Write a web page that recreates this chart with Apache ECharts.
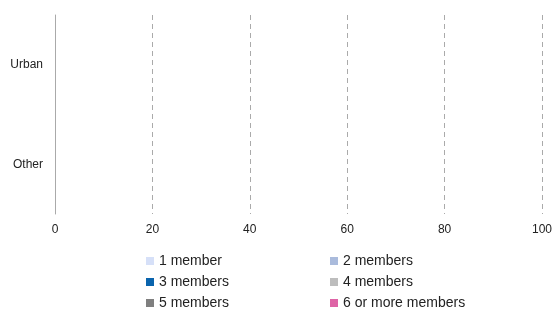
<!DOCTYPE html>
<html>
<head>
    <meta charset="utf-8">
    <title>Household size</title>
    <script src="https://cdn.jsdelivr.net/npm/echarts@6/dist/echarts.min.js"></script>
</head>
<body style="margin:0;background:#fff;">
    <div id="main" style="width:555px;height:309px;"></div>
    <script type="text/javascript">
        var categories = ['Urban', 'Other'];
        var seriesNames = ['1 member', '2 members', '3 members', '4 members', '5 members', '6 or more members'];
        var seriesColors = ['#d6e0f8', '#aabbdc', '#0a64ad', '#bdbdbd', '#7f7f7f', '#de64a6'];
        // no bars are drawn in the reference: every value is missing
        var oneMember = [null, null];
        var twoMembers = [null, null];
        var threeMembers = [null, null];
        var fourMembers = [null, null];
        var fiveMembers = [null, null];
        var sixPlusMembers = [null, null];
        var xTicks = [0, 20, 40, 60, 80, 100];

        var allValues = [oneMember, twoMembers, threeMembers, fourMembers, fiveMembers, sixPlusMembers];

        var myChart = echarts.init(document.getElementById('main'));

        var series = [];
        for (var i = 0; i < seriesNames.length; i++) {
            series.push({
                name: seriesNames[i],
                type: 'bar',
                stack: 'total',
                barWidth: '60%',
                itemStyle: { color: seriesColors[i] },
                data: allValues[i]
            });
        }

        var legendText = { color: '#222', fontSize: 14, fontFamily: 'Liberation Sans, Arial, sans-serif', lineHeight: 14 };

        // two columns: left holds 1/3/5, right holds 2/4/6+
        function legendColumn(left, names) {
            return {
                orient: 'vertical',
                left: left,
                top: 254,
                height: 60,
                padding: 0,
                itemWidth: 8,
                itemHeight: 8,
                itemGap: 7,
                icon: 'rect',
                textStyle: legendText,
                data: names
            };
        }

        var option = {
            animation: false,
            backgroundColor: '#ffffff',
            grid: { left: 55, right: 12, top: 15, bottom: 95, containLabel: false },
            legend: [
                legendColumn(146, [seriesNames[0], seriesNames[2], seriesNames[4]]),
                legendColumn(330, [seriesNames[1], seriesNames[3], seriesNames[5]])
            ],
            xAxis: {
                type: 'value',
                min: xTicks[0],
                max: xTicks[xTicks.length - 1],
                interval: 20,
                axisLine: { show: false },
                axisTick: { show: false },
                axisLabel: { color: '#222', fontSize: 12, margin: 10, fontFamily: 'Liberation Sans, Arial, sans-serif' },
                splitLine: {
                    show: true,
                    showMinLine: false,
                    lineStyle: { color: '#aaaaaa', type: [5, 4], width: 1 }
                }
            },
            yAxis: {
                type: 'category',
                inverse: true,
                data: categories,
                axisLine: { show: true, lineStyle: { color: '#aaaaaa', width: 1 } },
                axisTick: { show: false },
                axisLabel: { color: '#222', fontSize: 12, margin: 12, fontFamily: 'Liberation Sans, Arial, sans-serif' }
            },
            series: series
        };

        myChart.setOption(option);
    </script>
</body>
</html>
